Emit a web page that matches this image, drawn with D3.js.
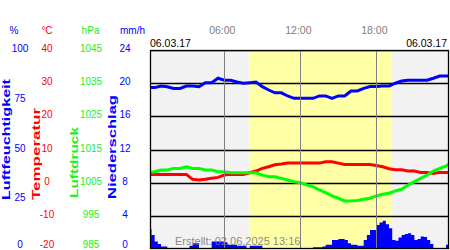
<!DOCTYPE html>
<html lang="de">
<head>
<meta charset="UTF-8">
<title>Wetterdaten 06.03.17</title>
<script src="https://d3js.org/d3.v7.min.js"></script>
<style>
  body { margin: 0; background: #fff; }
  svg { display: block; font-family: "Liberation Sans", Arial, sans-serif; }
</style>
</head>
<body>
<svg id="chart" width="450" height="250"></svg>
<script>
// --- data (30 min steps) ---
const times = ["00:00","00:30","01:00","01:30","02:00","02:30","03:00","03:30","04:00","04:30",
  "05:00","05:30","06:00","06:30","07:00","07:30","08:00","08:30","09:00","09:30",
  "10:00","10:30","11:00","11:30","12:00","12:30","13:00","13:30","14:00","14:30",
  "15:00","15:30","16:00","16:30","17:00","17:30","18:00","18:30","19:00","19:30",
  "20:00","20:30","21:00","21:30","22:00","22:30","23:00","23:30","23:45"];

const humidity = [81.1, 81.1, 81.9, 81.5, 80.7, 80.7, 81.9, 81.9, 81.5, 83.6,
  83.6, 85.8, 84.8, 84.8, 83.9, 83.3, 83.6, 83.9, 81.6, 79.9,
  78.5, 78.5, 76.9, 75.7, 75.7, 75.7, 75.7, 76.9, 76.9, 75.7,
  76.9, 76.9, 79.4, 79.4, 80.7, 81.6, 81.6, 81.9, 81.9, 83.3,
  84.4, 84.8, 84.8, 84.8, 84.8, 85.8, 86.9, 86.9, 86.9];

const temperature = [2.5, 2.5, 2.5, 2.5, 2.5, 2.5, 2.5, 1.0, 0.8, 1.0,
  1.3, 1.6, 2.3, 2.5, 2.5, 2.5, 3.0, 3.5, 4.3, 4.8,
  5.4, 5.6, 5.9, 5.9, 5.9, 5.9, 5.9, 5.9, 6.3, 6.3,
  5.9, 5.5, 5.5, 5.5, 5.5, 5.5, 5.2, 4.8, 4.2, 3.9,
  3.9, 3.5, 3.5, 3.1, 3.1, 2.8, 3.1, 3.1, 3.1];

const pressure = [1008.0, 1008.3, 1008.8, 1008.8, 1009.3, 1009.3, 1009.8, 1009.3, 1009.3, 1008.8,
  1008.8, 1008.3, 1008.3, 1008.0, 1008.0, 1008.0, 1008.0, 1008.0, 1007.3, 1006.8,
  1006.8, 1006.3, 1005.8, 1005.3, 1005.0, 1004.3, 1003.8, 1002.8, 1002.0, 1001.0,
  1000.3, 999.5, 999.5, 999.6, 1000.0, 1000.3, 1001.0, 1001.5, 1001.8, 1002.5,
  1003.0, 1004.3, 1005.3, 1006.3, 1007.3, 1008.5, 1009.3, 1010.0, 1010.6];

// precipitation in 15 min steps
const rainTimes = ["00:00","00:15","00:30","00:45","01:00","01:15","01:30","01:45",
  "02:00","02:15","02:30","02:45","03:00","03:15","03:30","03:45",
  "04:00","04:15","04:30","04:45","05:00","05:15","05:30","05:45",
  "06:00","06:15","06:30","06:45","07:00","07:15","07:30","07:45",
  "08:00","08:15","08:30","08:45","09:00","09:15","09:30","09:45",
  "10:00","10:15","10:30","10:45","11:00","11:15","11:30","11:45",
  "12:00","12:15","12:30","12:45","13:00","13:15","13:30","13:45",
  "14:00","14:15","14:30","14:45","15:00","15:15","15:30","15:45",
  "16:00","16:15","16:30","16:45","17:00","17:15","17:30","17:45",
  "18:00","18:15","18:30","18:45","19:00","19:15","19:30","19:45",
  "20:00","20:15","20:30","20:45","21:00","21:15","21:30","21:45",
  "22:00","22:15","22:30","22:45","23:00","23:15","23:30","23:45"];

const rain = [2.4, 1.7, 0.9, 0.6, 0.3, 0.3, 0.1, 0.1,
  0.1, 0.1, 0.1, 0.1, 0.1, 0.4, 0.7, 0.7,
  0.1, 0.1, 0.1, 0.1, 0.9, 0.9, 0.9, 0.9,
  0.8, 0.5, 0.5, 0.5, 0.4, 0.4, 0.4, 0,
  0.4, 0.4, 0.4, 0.4, 0, 0, 0, 0,
  0, 0, 0, 0, 0, 0, 0, 0,
  0, 0, 0, 0, 0.2, 0.2, 0.2, 0.3,
  0.5, 0.5, 1.1, 1.1, 1.2, 1.2, 1.1, 0.7,
  0.5, 0.5, 0.4, 0.4, 1.1, 1.7, 2.3, 2.3,
  2.9, 3.2, 3.4, 3.0, 2.5, 1.1, 1.0, 1.4,
  1.7, 1.8, 1.9, 1.7, 1.1, 1.2, 1.5, 1.45,
  1.1, 0.6, 0, 0, 0.1, 0.1, 0.5, 0.5];

const humTicks = [0, 25, 50, 75, 100];
const tempTicks = [-20, -10, 0, 10, 20, 30, 40];
const pressTicks = [985, 995, 1005, 1015, 1025, 1035, 1045];
const rainTicks = [0, 4, 8, 12, 16, 20, 24];
const hourTicks = ["06:00", "12:00", "18:00"];

const viewStart = "00:08", viewEnd = "23:44";
const sunrise = "07:57", sunset = "19:14";
const dateLabel = "06.03.17";
const createdLabel = "Erstellt: 02.06.2025 13:16";

// --- setup ---
const BLUE = "#0000ff", RED = "#ff0000", GREEN = "#00ff00", GREEN_TXT = "#22ee22";
const hours = t => { const [h, m] = t.split(":").map(Number); return h + m / 60; };

const pL = 150, pR = 449, pT = 50, pB = 249;
const svg = d3.select("#chart");

const x = d3.scaleLinear().domain([hours(viewStart), hours(viewEnd)]).range([pL, pR]);
const yHum = d3.scaleLinear().domain([0, 100]).range([pB, pT]);
const yTemp = d3.scaleLinear().domain([-20, 40]).range([pB, pT]);
const yPress = d3.scaleLinear().domain([985, 1045]).range([pB, pT]);
const yRain = d3.scaleLinear().domain([0, 24]).range([pB, pT]);

svg.append("clipPath").attr("id", "plot")
  .append("rect").attr("x", pL).attr("y", pT).attr("width", pR - pL).attr("height", pB - pT);

const plot = svg.append("g").attr("clip-path", "url(#plot)");

// night / day background
plot.append("rect").attr("x", pL).attr("y", pT)
  .attr("width", pR - pL).attr("height", pB - pT).attr("fill", "#f2f2f2");
plot.append("rect").attr("x", x(hours(sunrise))).attr("y", pT)
  .attr("width", x(hours(sunset)) - x(hours(sunrise))).attr("height", pB - pT)
  .attr("fill", "#ffffa6");

// horizontal grid
plot.selectAll("line.grid").data(tempTicks).join("line")
  .attr("x1", pL).attr("x2", pR)
  .attr("y1", d => Math.round(yTemp(d)) + 0.5).attr("y2", d => Math.round(yTemp(d)) + 0.5)
  .attr("stroke", "#000").attr("stroke-width", 1.3);

// precipitation
const rainData = rainTimes.map((t, i) => ({ h: hours(t), v: rain[i] }));
rainData.push({ h: 24, v: rain[rain.length - 1] });
plot.append("path").datum(rainData)
  .attr("fill", BLUE)
  .attr("d", d3.area().curve(d3.curveStepAfter).x(d => x(d.h)).y0(yRain(0)).y1(d => yRain(d.v)));

// series lines
const series = [
  { values: humidity, y: yHum, color: BLUE },
  { values: temperature, y: yTemp, color: RED },
  { values: pressure, y: yPress, color: GREEN }
];
series.forEach(s => {
  const pts = times.map((t, i) => [x(hours(t)), s.y(s.values[i])]);
  plot.append("path").datum(pts)
    .attr("fill", "none").attr("stroke", s.color).attr("stroke-width", 3)
    .attr("d", d3.line());
});

// hour lines
plot.selectAll("line.hour").data(hourTicks).join("line")
  .attr("x1", d => Math.round(x(hours(d))) + 0.5).attr("x2", d => Math.round(x(hours(d))) + 0.5)
  .attr("y1", pT).attr("y2", pB)
  .attr("stroke", "#808080").attr("stroke-width", 1);

// frame
svg.append("rect").attr("x", pL + 0.5).attr("y", pT + 0.5)
  .attr("width", pR - pL - 1).attr("height", pB - pT - 1)
  .attr("fill", "none").attr("stroke", "#000").attr("stroke-width", 1.3);

// hour labels
svg.selectAll("text.hour").data(hourTicks).join("text")
  .attr("x", d => x(hours(d)) - 2).attr("y", 30).attr("dy", "0.36em")
  .attr("text-anchor", "middle").attr("font-size", 10.5).attr("fill", "#808080")
  .text(d => d);

// date labels
svg.append("text").attr("x", pL).attr("y", 43).attr("dy", "0.36em")
  .attr("font-size", 10.5).attr("fill", "#000").text(dateLabel);
svg.append("text").attr("x", pR - 2).attr("y", 43).attr("dy", "0.36em")
  .attr("text-anchor", "end").attr("font-size", 10.5).attr("fill", "#000").text(dateLabel);

// axis columns
const axes = [
  { unit: "%", ticks: humTicks, scale: yHum, cx: 20, ux: 14, color: BLUE },
  { unit: "°C", ticks: tempTicks, scale: yTemp, cx: 47, ux: 47, color: RED },
  { unit: "hPa", ticks: pressTicks, scale: yPress, cx: 91, ux: 90.5, color: GREEN_TXT },
  { unit: "mm/h", ticks: rainTicks, scale: yRain, cx: 125, ux: 132.5, color: BLUE }
];
axes.forEach(a => {
  const g = svg.append("g").attr("font-size", 10).attr("fill", a.color).attr("text-anchor", "middle");
  g.append("text").attr("x", a.ux).attr("y", 30).attr("dy", "0.36em").text(a.unit);
  g.selectAll("text.tick").data(a.ticks).join("text")
    .attr("x", a.cx).attr("y", d => Math.min(a.scale(d) - 1.5, 244)).attr("dy", "0.36em")
    .text(d => d);
});

// rotated titles
const titles = [
  { text: "Luftfeuchtigkeit", x: 9.5, y: 200, len: 121, color: BLUE },
  { text: "Temperatur", x: 40, y: 200, len: 92, color: RED },
  { text: "Luftdruck", x: 77.5, y: 198, len: 71, color: GREEN_TXT },
  { text: "Niederschlag", x: 116, y: 199, len: 104, color: BLUE }
];
titles.forEach(t => {
  svg.append("text")
    .attr("transform", `translate(${t.x},${t.y}) rotate(-90)`)
    .attr("font-size", 11).attr("font-weight", "bold").attr("fill", t.color)
    .attr("textLength", t.len).attr("lengthAdjust", "spacingAndGlyphs")
    .text(t.text);
});

// created stamp
svg.append("text").attr("x", 175).attr("y", 241).attr("dy", "0.36em")
  .attr("font-size", 11).attr("fill", "#7a7a7a").attr("fill-opacity", 0.9)
  .text(createdLabel);
</script>
</body>
</html>
